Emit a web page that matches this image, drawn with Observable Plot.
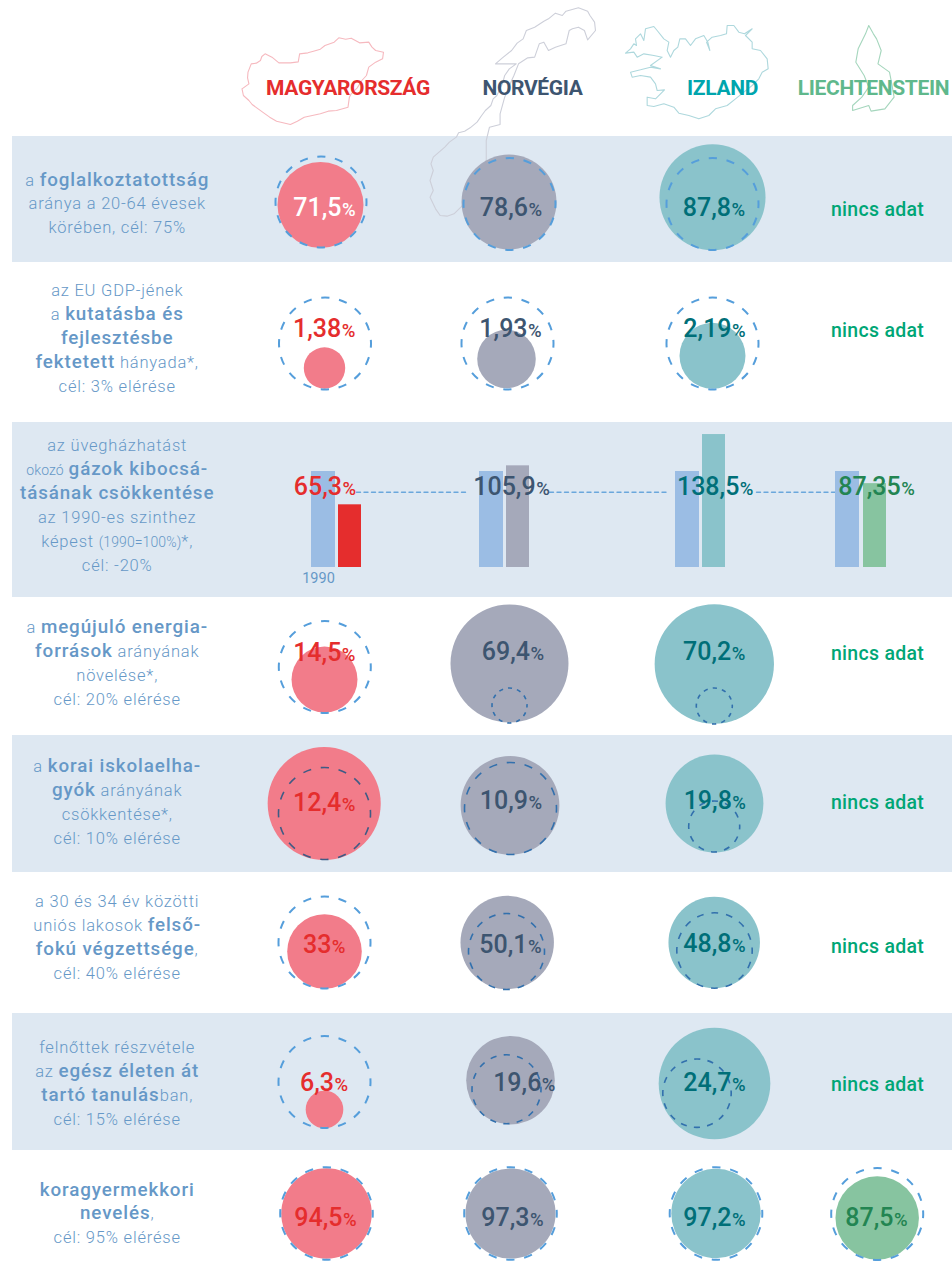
<!DOCTYPE html>
<html lang="hu"><head><meta charset="utf-8">
<script src="https://cdn.jsdelivr.net/npm/d3@7"></script>
<script src="https://cdn.jsdelivr.net/npm/@observablehq/plot@0.6"></script>
<style>html,body{margin:0;padding:0;background:#fff}svg{display:block}</style>
</head><body><div id="chart"></div>
<script>
// ---------- values ----------
const countries = ["MAGYARORSZÁG","NORVÉGIA","IZLAND","LIECHTENSTEIN"];
const targets = [75,3,80,20,10,40,15,95];
const magyarorszag = [71.5,1.38,65.3,14.5,12.4,33,6.3,94.5];
const norvegia = [78.6,1.93,105.9,69.4,10.9,50.1,19.6,97.3];
const izland = [87.8,2.19,138.5,70.2,19.8,48.8,24.7,97.2];
const liechtenstein = [null,null,87.35,null,null,null,null,87.5];
const noData = "nincs adat";
const baselineYear = "1990";
const baselineValue = 100;
// {bold} spans, [small] spans
const rowLabels = [
 ["a {foglalkoztatottság}","aránya a 20-64 évesek","körében, cél: 75%"],
 ["az EU GDP-jének","a {kutatásba és}","{fejlesztésbe}","{fektetett} hányada*,","cél: 3% elérése"],
 ["az üvegházhatást","[okozó] {gázok kibocsá-}","{tásának csökkentése}","az 1990-es szinthez","képest [(1990=100%)]*,","cél: -20%"],
 ["a {megújuló energia-}","{források} arányának","növelése*,","cél: 20% elérése"],
 ["a {korai iskolaelha-}","{gyók} arányának","csökkentése*,","cél: 10% elérése"],
 ["a 30 és 34 év közötti","uniós lakosok {felső-}","{fokú végzettsége},","cél: 40% elérése"],
 ["felnőttek részvétele","az {egész életen át}","{tartó tanulás}ban,","cél: 15% elérése"],
 ["{koragyermekkori}","{nevelés},","cél: 95% elérése"]
];
// country outlines: hand-traced shape points
const outlineHU = [[25,265],[34,256],[40,250],[37,232],[38,215],[45,190],[56,188],[65,180],[68,168],[75,160],[90,170],[105,187],[130,187],[147,184],[150,160],[168,157],[180,152],[195,146],[205,135],[225,125],[235,112],[250,116],[262,113],[280,127],[300,125],[307,140],[315,150],[332,155],[330,175],[315,185],[300,200],[295,225],[285,240],[275,262],[262,280],[258,290],[255,320],[230,330],[212,332],[195,340],[160,350],[145,362],[130,372],[100,362],[85,350],[75,340],[60,325],[47,312],[40,300],[28,285],[25,265]];
const outlineNO = [[500,620],[485,640],[470,647],[455,645],[445,625],[433,590],[440,570],[433,540],[440,510],[435,490],[440,470],[465,440],[475,425],[490,410],[495,397],[508,392],[520,382],[535,365],[545,345],[553,330],[565,315],[570,295],[578,285],[590,250],[595,225],[605,205],[620,190],[600,190],[575,190],[590,172],[610,150],[622,128],[635,115],[642,90],[660,80],[680,62],[690,55],[705,38],[720,45],[728,32],[755,22],[775,32],[780,45],[790,65],[792,90],[775,118],[768,90],[755,80],[742,85],[735,90],[728,130],[705,140],[690,150],[680,125],[670,130],[660,170],[645,172],[625,190],[615,225],[610,240],[595,290],[585,340],[585,372],[562,380],[555,420],[555,480],[540,530],[520,590],[500,620]];
const outlineIS = [[15,158],[30,145],[40,130],[48,135],[45,115],[60,100],[70,120],[75,85],[100,78],[110,90],[130,115],[145,125],[140,150],[150,170],[160,150],[172,140],[178,115],[195,115],[210,135],[225,115],[250,105],[262,125],[268,150],[258,125],[275,110],[300,105],[318,100],[320,75],[340,75],[355,95],[372,100],[395,85],[375,105],[395,125],[395,145],[420,150],[440,175],[443,205],[425,215],[415,235],[395,255],[370,275],[345,295],[320,315],[285,325],[265,345],[235,355],[205,345],[175,338],[160,320],[130,310],[100,318],[80,315],[80,290],[105,295],[132,268],[110,270],[105,250],[90,230],[60,225],[35,230],[30,215],[60,208],[90,200],[120,205],[90,195],[125,170],[100,165],[70,160],[50,170],[40,155],[15,158]];
const outlineLI = [[1385,75],[1395,100],[1402,115],[1412,150],[1405,190],[1430,215],[1435,250],[1440,290],[1420,325],[1390,332],[1385,315],[1350,330],[1350,315],[1370,290],[1385,260],[1375,225],[1357,185],[1362,145],[1378,100],[1385,75]];

// ---------- layout (separate from values) ----------
const W = 952, H = 1276;
const FONT = "Roboto, sans-serif";
const C = {
  band:"#dee8f2", text:"#6698c7", ring:"#559edb", ringDark:"#3270ad", ringHu:"#3f5b85",
  head:["#e52d2d","#3d5570","#00a5ad","#5fb88c"],
  fill:["#f27c8a","#a5a9ba","#8ac3cb","#87c4a0"],
  ink:["#e52d2d","#3d5570","#006f78","#238552"],
  outline:["#f6b9bf","#cdcfd9","#aed8dd","#a5d6bd"],
  none:"#00a676", base:"#9bbde4"
};
const bands = [[136,262],[422,597],[735,872],[1013,1150]];
const headX = [347.5,532,722,873], headBaseline = 94.5;
const TEXT_SHIFT = 1.5;
// ring cx,cy,r, disc cx,cy, px-per-target, ring style (0 light, 1 dark)
const cells = [
 [[320.5,201.5,45.5,320,204.5,45.1,0],[509,203.5,46,508.5,201.5,45.3,0],[712,203.5,46,712,196.7,45.3,0],null],
 [[324.5,343,46,324,367.5,45,0],[507,343,46,506,358.5,45.5,0],[712,343,46,712,355.3,45.2,0],null],
 null,
 [[324.3,666.5,46,324,679,45.5,0],[509,705,17.5,509,663,17,1],[713.8,705.5,18,713.8,663.5,17,1],null],
 [[324,813,46,323.7,803,45.6,2],[510,808,46,509.5,805,45.3,1],[713.7,826,25.5,714,803,24.7,1],null],
 [[324,942,46,324,951,45.2,0],[506,951,38,506.7,942,37.3,1],[714,950,37.7,713.7,942,37.5,1],null],
 [[324,1081.5,46,324,1109,44.8,0],[506,1088.8,34.5,510,1079.7,33.9,1],[696.5,1092.7,34.2,714,1083,33.9,1],null],
 [[326,1213,46.3,326,1213,45.5,0],[510,1213,46.3,510,1213,44,0],[715.5,1213,46.3,715.5,1213,43.7,0],[876.7,1213.5,46,876.7,1217.5,45.3,0]]
];
const valueLabelPos = [
 [[324,216.5],[510.5,216.5],[713.5,216.5],[877,217]],
 [[323.7,337.5],[510,338],[714,338],[877,337.5]],
 [[324.5,496],[511,496],[714.7,496],[876,496]],
 [[323.8,661.5],[512.5,661],[713.7,661],[877,661]],
 [[323.7,811.5],[510.5,810],[714.3,810],[877,810]],
 [[323.7,954],[510,954],[714,953],[877,954]],
 [[323.5,1092],[523.8,1092],[714,1092],[877,1092]],
 [[325,1226.7],[512,1226.7],[714,1226.7],[876,1227]]
];
const labelBaselines = [
 [186.7,210,234],
 [296.7,320.7,344.5,368.7,393],
 [452,476,500,524,548,572],
 [634,658,682,706],
 [772.7,796.7,821,845],
 [908,932,956,980],
 [1054,1078,1101.7,1125.7],
 [1196.7,1220,1244]
];
const labelX = 116.7;
const barBase = 567, barScale = 0.96, barW = 24;
const baseBarX = [311,479,675,835], valBarX = [338,506,702,863];
const tgtSegs = [[356,467],[549,668],[756,835]];
const yearPos = {x:318,y:584};
const outlineItems = [
  [outlineHU,p=>({x:230+p[0]/2.17,y:p[1]/3})],
  [outlineNO,p=>({x:230+p[0]/2.17,y:p[1]/3})],
  [outlineIS,p=>({x:620+p[0]/3,y:p[1]/3})],
  [outlineLI,p=>({x:230+p[0]/2.17,y:p[1]/3})]
];

// ---------- derived tables ----------
const series = [magyarorszag,norvegia,izland,liechtenstein];
const discs=[], rings=[], valueTexts=[], noDataTexts=[], bars=[];
series.forEach((vals,c)=>vals.forEach((v,r)=>{
  const [lx,ly] = valueLabelPos[r][c];
  if(v==null){ noDataTexts.push({x:lx,y:ly-TEXT_SHIFT,t:noData}); return; }
  const ink = (r===0&&c===0) ? "#ffffff" : C.ink[c];
  valueTexts.push({x:lx,y:ly-TEXT_SHIFT,t:String(v).replace(".",",")+"|%",ink});
  const cell = cells[r] && cells[r][c];
  if(r===2){
    bars.push({x1:baseBarX[c],x2:baseBarX[c]+barW,y1:barBase,y2:barBase-baselineValue*barScale,f:C.base});
    bars.push({x1:valBarX[c],x2:valBarX[c]+23,y1:barBase,y2:barBase-v*barScale,f:c===0?"#e52d2d":C.fill[c]});
  } else if(cell){
    const [rx,ry,rr,dx,dy,k,style] = cell;
    discs.push({x:dx,y:dy,r:k*v/targets[r],f:C.fill[c]});
    rings.push({x:rx,y:ry,r:rr,style});
  }
}));
const labelLines = rowLabels.flatMap((lines,r)=>lines.map((t,i)=>({x:labelX,y:labelBaselines[r][i]-TEXT_SHIFT,t})));
const ringMark = d=>{
  const n = d.r<30 ? 12 : 16, per = 2*Math.PI*d.r/n, dash = per*.46;
  return Plot.dot([d],{x:"x",y:"y",r:"r",fill:"none",
    stroke:[C.ring,C.ringDark,C.ringHu][d.style],strokeWidth:d.style?1.6:2,
    strokeDasharray:`${dash} ${per-dash}`,strokeDashoffset:dash/2});
};

const svg = Plot.plot({
  width:W,height:H,margin:0,
  style:{background:"#fff",fontFamily:FONT},
  x:{domain:[0,W],range:[0,W],axis:null},
  y:{domain:[0,H],range:[0,H],axis:null},
  r:{type:"identity"},
  marks:[
    Plot.rect(bands,{x1:()=>12,x2:()=>W,y1:d=>d[0],y2:d=>d[1],fill:C.band}),
    ...outlineItems.map(([o,f],i)=>Plot.line(o.map(f),{x:"x",y:"y",stroke:C.outline[i],strokeWidth:1.1,strokeLinejoin:"round"})),
    ...tgtSegs.map(s=>Plot.line([{x:s[0],v:targets[2]},{x:s[1],v:targets[2]}],{x:"x",y:d=>barBase-d.v*barScale+1.5,stroke:"#6aa7dc",strokeWidth:1.4,strokeDasharray:"4 3.5"})),
    Plot.rect(bars,{x1:"x1",x2:"x2",y1:"y1",y2:"y2",fill:"f"}),
    Plot.dot(discs,{x:"x",y:"y",r:"r",fill:"f"}),
    ...rings.map(ringMark),
    Plot.text(countries,{x:(d,i)=>headX[i],y:()=>headBaseline,text:d=>d,fill:(d,i)=>C.head[i],fontSize:21,fontWeight:700,lineAnchor:"bottom",className:"head"}),
    Plot.text(labelLines,{x:"x",y:"y",text:"t",fill:C.text,fontSize:16.5,fontWeight:300,lineAnchor:"bottom",className:"rowlabel"}),
    Plot.text(noDataTexts,{x:"x",y:"y",text:"t",fill:C.none,fontSize:19.5,fontWeight:500,lineAnchor:"bottom",className:"none"}),
    Plot.text(valueTexts,{x:"x",y:"y",text:"t",fill:"ink",fontSize:25,fontWeight:500,lineAnchor:"bottom",className:"val"}),
    Plot.text([baselineYear],{x:()=>yearPos.x,y:()=>yearPos.y-TEXT_SHIFT,text:d=>d,fill:C.text,fontSize:14.5,fontWeight:400,lineAnchor:"bottom"})
  ]
});
document.getElementById("chart").append(svg);

// rich text spans
function spans(node, parts){
  node.textContent="";
  parts.forEach(p=>{
    const ts=document.createElementNS("http://www.w3.org/2000/svg","tspan");
    ts.textContent=p.t;
    Object.entries(p.a||{}).forEach(([k,v])=>ts.setAttribute(k,v));
    node.appendChild(ts);
  });
}
d3.select(svg).selectAll("g.rowlabel text").each(function(){
  const parts=[]; const re=/\{([^}]*)\}|\[([^\]]*)\]|([^{[]+)/g; let m;
  while((m=re.exec(this.textContent))){
    if(m[1]!==undefined) parts.push({t:m[1],a:{"font-weight":500,"font-size":18.8,"letter-spacing":0.9}});
    else if(m[2]!==undefined) parts.push({t:m[2],a:{"font-size":14,"letter-spacing":0.1}});
    else parts.push({t:m[3]});
  }
  spans(this,parts);
  this.setAttribute("letter-spacing","0.8");
});
d3.select(svg).selectAll("g.val text").each(function(){
  const [a,b]=this.textContent.split("|");
  spans(this,[{t:a},{t:b,a:{"font-size":18.5,dx:0.5,"font-weight":500}}]);
});
d3.select(svg).selectAll("g.none text").attr("letter-spacing","0.3");
d3.select(svg).selectAll("g.head text").attr("letter-spacing","-0.35");
</script></body></html>
